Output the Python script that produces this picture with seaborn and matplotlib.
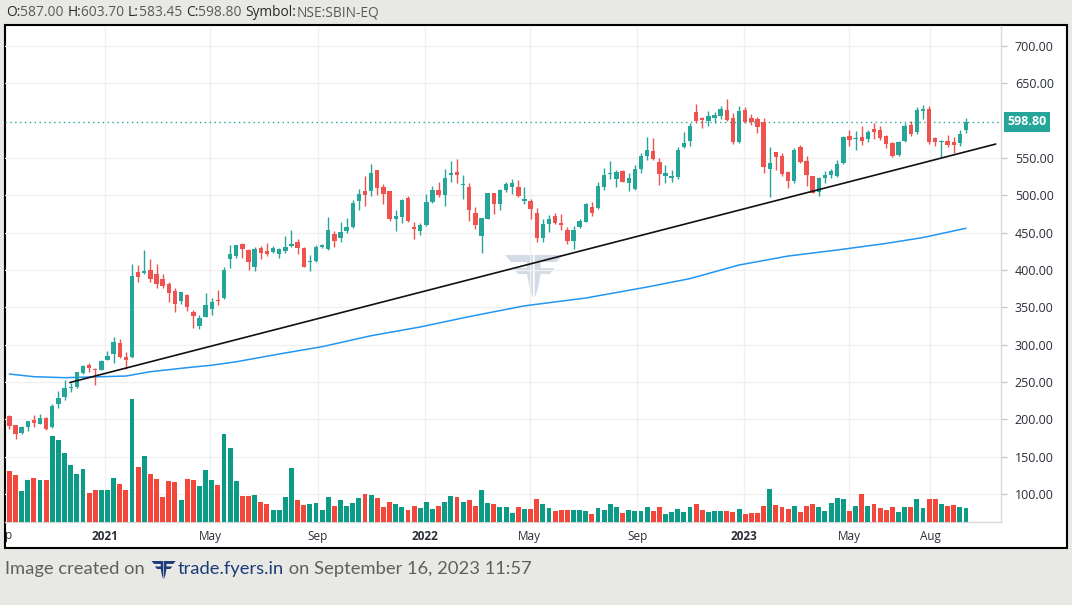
import numpy as np
import pandas as pd
import matplotlib
matplotlib.use("Agg")
import matplotlib.pyplot as plt
import matplotlib.dates as mdates
import seaborn as sns
from matplotlib.patches import Rectangle, Polygon
from matplotlib.transforms import blended_transform_factory

W, H = 1072, 605

# weekly candles, SBIN, week of 14 Sep 2020 .. week of 11 Sep 2023
dates = pd.date_range("2020-09-14", periods=157, freq="7D")

opens = [204.5, 192.0, 181.7, 190.2, 199.1, 194.2, 201.4, 189.8, 220.6, 230.4,
         242.5, 243.8, 262.5, 272.8, 267.9, 266.5, 280.0, 287.1, 302.3, 283.5,
         284.0, 397.3, 396.4, 400.0, 395.1, 388.0, 381.7, 371.9, 359.0, 366.5,
         344.2, 325.5, 337.5, 348.2, 359.8, 363.0, 414.8, 418.8, 434.9, 426.8,
         404.5, 429.0, 425.5, 424.6, 421.5, 425.9, 432.6, 437.1, 429.0, 410.3,
         412.1, 430.4, 428.1, 447.8, 443.3, 452.2, 457.1, 492.4, 505.8, 505.8,
         533.9, 511.6, 505.8, 468.3, 471.4, 496.0, 457.1, 452.7, 460.3, 491.5,
         507.1, 500.9, 527.5, 531.2, 513.4, 511.6, 476.8, 445.5, 468.3, 502.7,
         488.4, 507.1, 511.2, 511.2, 492.8, 492.4, 476.8, 443.3, 462.1, 472.3,
         462.9, 453.6, 439.3, 457.1, 464.7, 484.4, 482.6, 511.6, 528.1, 522.3,
         532.6, 517.0, 508.5, 535.3, 553.2, 559.4, 544.7, 525.9, 523.7, 524.1,
         564.3, 572.8, 612.1, 603.6, 599.6, 604.1, 606.3, 614.3, 603.2, 571.9,
         614.3, 604.1, 602.3, 597.8, 534.9, 557.6, 552.7, 531.3, 519.2, 564.3,
         546.0, 525.9, 504.9, 523.7, 527.3, 526.4, 542.9, 579.5, 575.9, 578.1,
         575.5, 589.3, 587.5, 579.5, 570.6, 554.0, 572.8, 594.7, 584.9, 613.4,
         615.6, 576.8, 571.9, 572.8, 571.5, 570.6, 587.0]
highs = [206.3, 193.0, 191.0, 197.5, 205.8, 207.2, 202.7, 220.1, 238.0, 252.7,
         249.1, 264.0, 272.8, 275.0, 269.2, 279.5, 291.5, 310.3, 307.6, 289.8,
         408.1, 406.7, 426.8, 414.8, 408.1, 394.7, 384.4, 375.5, 371.0, 367.9,
         346.5, 339.8, 368.8, 362.1, 373.2, 404.5, 433.5, 433.5, 435.7, 428.6,
         431.3, 432.2, 435.7, 432.2, 429.0, 445.6, 454.0, 441.5, 430.4, 420.1,
         433.5, 434.9, 470.5, 452.7, 464.3, 469.2, 493.7, 508.5, 525.9, 542.0,
         533.9, 515.2, 505.8, 480.4, 494.6, 499.1, 464.7, 462.5, 501.8, 512.5,
         518.3, 535.3, 546.0, 548.7, 527.2, 517.0, 484.8, 470.1, 503.6, 503.6,
         508.5, 518.3, 521.9, 520.5, 510.7, 495.1, 482.6, 467.9, 473.7, 476.8,
         475.0, 457.1, 458.9, 468.3, 490.2, 490.6, 518.3, 536.2, 546.0, 533.9,
         533.9, 529.5, 540.6, 556.2, 578.6, 577.3, 549.6, 540.7, 534.0, 564.3,
         585.3, 596.5, 622.4, 604.5, 613.0, 611.2, 620.1, 629.0, 609.9, 620.1,
         617.9, 609.0, 605.4, 603.2, 564.3, 558.5, 556.3, 532.6, 563.9, 567.4,
         553.2, 525.9, 524.1, 533.1, 535.3, 547.4, 579.9, 587.5, 586.2, 592.9,
         587.5, 596.5, 592.9, 580.8, 571.9, 573.3, 596.5, 600.0, 618.8, 621.0,
         619.7, 578.1, 574.1, 580.8, 577.7, 587.5, 603.7]
lows = [187.5, 174.1, 180.4, 184.9, 190.2, 194.0, 185.3, 188.9, 215.7, 226.0,
        237.1, 242.4, 261.2, 263.4, 246.5, 266.1, 279.5, 275.9, 282.2, 267.9,
        281.7, 384.4, 394.7, 384.0, 376.4, 375.9, 356.7, 343.8, 354.9, 345.6,
        321.9, 320.6, 337.5, 339.8, 353.6, 360.7, 403.2, 416.5, 416.5, 400.0,
        398.7, 414.8, 418.8, 423.2, 416.5, 423.2, 430.4, 421.0, 403.6, 399.1,
        411.2, 429.0, 426.8, 431.3, 437.9, 450.0, 455.8, 480.4, 485.7, 499.1,
        500.4, 488.4, 466.1, 452.7, 462.5, 464.7, 441.5, 446.9, 458.9, 489.3,
        497.3, 486.2, 518.3, 517.0, 495.1, 466.1, 454.5, 423.2, 468.3, 475.0,
        480.4, 504.5, 501.8, 497.3, 488.4, 468.8, 437.9, 437.1, 450.4, 461.6,
        453.6, 434.8, 428.1, 455.8, 464.3, 472.8, 481.3, 507.1, 521.9, 511.6,
        517.4, 506.2, 507.1, 530.4, 547.4, 547.4, 513.9, 517.0, 518.3, 521.9,
        563.0, 566.5, 597.3, 590.7, 593.3, 597.3, 602.3, 599.6, 568.8, 569.7,
        596.5, 594.2, 584.0, 530.4, 498.2, 534.0, 525.9, 510.3, 517.0, 543.8,
        513.0, 502.7, 499.6, 517.0, 522.8, 524.1, 542.0, 566.5, 560.7, 567.4,
        571.5, 575.5, 574.1, 563.4, 551.4, 552.7, 571.5, 579.9, 582.2, 602.3,
        568.8, 566.1, 551.8, 564.3, 557.2, 566.5, 583.45]
closes = [191.6, 180.8, 189.3, 197.4, 194.7, 201.8, 187.5, 217.9, 228.6, 241.6,
          243.5, 263.4, 271.5, 268.8, 265.7, 278.2, 284.8, 303.6, 283.1, 280.0,
          392.0, 391.1, 398.7, 388.4, 381.7, 379.0, 369.7, 354.9, 370.1, 350.9,
          338.9, 335.3, 352.7, 356.7, 359.0, 400.0, 421.5, 433.5, 428.6, 411.2,
          428.1, 423.2, 421.0, 429.0, 428.1, 430.4, 434.9, 429.9, 404.5, 412.1,
          431.3, 433.1, 453.6, 439.3, 450.9, 457.1, 490.2, 501.3, 500.4, 529.5,
          510.3, 501.8, 468.3, 472.3, 493.7, 466.1, 455.4, 460.3, 491.5, 507.1,
          500.4, 523.7, 529.5, 527.7, 515.2, 480.4, 460.3, 470.1, 502.7, 488.4,
          507.1, 515.2, 517.0, 499.5, 495.1, 481.7, 443.3, 461.6, 468.3, 463.4,
          460.7, 439.3, 453.6, 465.6, 488.4, 476.8, 512.5, 527.2, 529.9, 530.8,
          517.9, 522.8, 535.3, 552.7, 560.7, 548.7, 529.0, 530.0, 525.9, 560.7,
          570.6, 593.3, 599.6, 600.9, 606.3, 607.2, 615.7, 600.9, 571.9, 613.0,
          598.7, 597.8, 591.1, 538.4, 542.9, 551.8, 528.6, 519.7, 560.7, 545.1,
          527.3, 503.6, 523.2, 527.3, 532.6, 542.0, 577.7, 574.1, 576.3, 572.8,
          584.9, 584.9, 576.4, 568.8, 552.7, 571.9, 592.9, 582.2, 614.3, 615.6,
          571.5, 571.9, 573.3, 567.9, 567.9, 582.2, 598.8]
# relative weekly volume
volumes = [51, 47, 31, 42, 44, 42, 42, 86, 82, 69, 57, 48, 53, 29, 32, 32, 32, 44, 38, 32,
           123, 55, 66, 48, 43, 25, 41, 40, 22, 43, 42, 36, 52, 42, 37, 88, 74, 41, 26, 26,
           27, 20, 18, 12, 12, 25, 54, 22, 17, 18, 19, 12, 25, 16, 22, 16, 19, 24, 28, 27,
           24, 15, 20, 18, 15, 12, 16, 14, 20, 13, 16, 20, 26, 25, 20, 22, 16, 32, 19, 18,
           15, 15, 9, 15, 13, 13, 23, 18, 14, 11, 12, 12, 12, 12, 11, 8, 14, 12, 18, 15,
           9, 12, 11, 11, 15, 11, 15, 8, 10, 13, 10, 15, 18, 12, 10, 11, 11, 11, 10, 13,
           8, 9, 9, 16, 33, 17, 15, 13, 16, 10, 16, 18, 15, 11, 19, 24, 23, 11, 16, 28,
           16, 18, 14, 12, 15, 10, 15, 15, 23, 14, 23, 23, 18, 16, 17, 15, 14]

# moving average line, sampled at candle numbers
ma_idx = [1, 5, 10, 16, 20, 24, 30, 34, 38, 45, 52, 60, 68, 76, 85, 95, 105, 112,
          120, 128, 136, 144, 150, 157]
ma_vals = [260.7, 257.1, 255.8, 257.1, 258.0, 263.8, 269.2, 272.5, 277.1, 287.5,
           297.3, 312.0, 323.7, 337.6, 352.0, 362.5, 377.2, 388.5, 406.7, 418.7,
           426.8, 435.6, 443.5, 455.9]

trend_dates = ["2020-11-22", "2023-10-15"]
trend_prices = [249.3, 568.7]

last_price = 598.8
price_ticks = [100, 150, 200, 250, 300, 350, 400, 450, 500, 550, 650, 700]
date_ticks = ["2021-01-01", "2021-05-01", "2021-09-01", "2022-01-01", "2022-05-01",
              "2022-09-01", "2023-01-01", "2023-05-01", "2023-08-01"]
date_labels = ["2021", "May", "Sep", "2022", "May", "Sep", "2023", "May", "Aug"]

sns.set_theme(style="white")
plt.rcParams["font.family"] = ["Open Sans", "DejaVu Sans"]

fig = plt.figure(figsize=(W / 100, H / 100), dpi=100, facecolor="#e8e8e4")


def fx(px):
    return px / W


def fy(py):
    return 1 - py / H


fig.add_artist(Rectangle((fx(5), fy(548)), fx(1062), 523 / H, transform=fig.transFigure,
                         facecolor="white", edgecolor="black", lw=1.5, zorder=-2))

# fyers mark: half of it, in pixels, mirrored for the other half
logo_half = [(0, 0), (28, 0), (28, 43), (25, 35), (22, 19), (13, 19), (8, 13),
             (22, 13), (22, 7), (6, 7)]


def draw_logo(left, top, scale, color, z):
    mid = 28.8
    for flip in (False, True):
        pts = []
        for px_, py_ in logo_half:
            xx = 2 * mid - px_ if flip else px_
            pts.append((fx(left + xx * scale), fy(top + py_ * scale)))
        fig.add_artist(Polygon(pts, closed=True, transform=fig.transFigure,
                               facecolor=color, edgecolor="none", zorder=z))


# watermark
draw_logo(505, 255, 1.0, "#d3dbe6", -1)

ax = fig.add_axes([fx(5), fy(522), 996 / W, 496 / H])
ax.set_facecolor("none")
vol = ax.twinx()

x = mdates.date2num(dates)
o = np.array(opens)
c = np.array(closes)
up = c >= o
candle_col = np.where(up, "#26a69a", "#ef5350")
vol_col = np.where(up, "#0c9b87", "#f4473b")

vol.bar(x, volumes, width=5.6, color=vol_col, linewidth=0)
vol.set_ylim(0, 496)
vol.set_axis_off()

ax.vlines(x, lows, highs, colors=candle_col, lw=1, zorder=3)
ax.bar(x, np.maximum(np.abs(c - o), 0.9), bottom=np.minimum(o, c), width=5.0,
       color=candle_col, linewidth=0, zorder=3)

sns.lineplot(x=x[np.array(ma_idx) - 1], y=ma_vals, ax=ax, color="#2196f3", lw=1.1, zorder=2)
ax.plot(mdates.date2num(pd.to_datetime(trend_dates)), trend_prices, color="#111111", lw=1.2, zorder=4)
ax.axhline(last_price, color="#26a69a", lw=1, ls=(0, (1, 2.5)), zorder=1)

ax.set_xlim(mdates.date2num(pd.Timestamp("2020-09-09")), mdates.date2num(pd.Timestamp("2023-10-21")))
ax.set_ylim(62.5, 726.8)
ax.set_xlabel("")
ax.set_ylabel("")

ax.yaxis.tick_right()
ax.set_yticks(price_ticks)
ax.set_yticklabels([f"{p:.2f}" for p in price_ticks])
ax.tick_params(axis="y", right=True, left=False, length=4, width=1, color="#c8c8c8",
               pad=6, labelsize=9, labelcolor="#2a2e39")
ax.set_xticks(mdates.date2num(pd.to_datetime(date_ticks)))
ax.set_xticklabels(date_labels)
ax.tick_params(axis="x", length=0, pad=6, labelsize=8.5, labelcolor="#2a2e39")
for lbl in ax.get_xticklabels():
    if lbl.get_text().isdigit():
        lbl.set_fontweight("bold")
ax.grid(True, color="#f0f0f0", lw=1)
ax.set_axisbelow(True)
for side in ("top", "left"):
    ax.spines[side].set_visible(False)
for side in ("right", "bottom"):
    ax.spines[side].set_visible(True)
    ax.spines[side].set_color("#d8d8d8")
    ax.spines[side].set_linewidth(1)

ax.text(1.026, last_price, f"{last_price:.2f}", transform=blended_transform_factory(ax.transAxes, ax.transData),
        ha="center", va="center", color="white", fontweight="bold", fontsize=9, clip_on=False, zorder=10,
        bbox=dict(boxstyle="square,pad=0.28", fc="#26a69a", ec="none"))

fig.text(fx(5), fy(536), "p", ha="left", va="center", fontsize=8.5, color="#2a2e39")

renderer = fig.canvas.get_renderer()


def seq_text(x_px, y_px, parts, size, family=None):
    for s, color in parts:
        t = fig.text(fx(x_px), fy(y_px), s, ha="left", va="center", fontsize=size, color=color)
        if family:
            t.set_family(family)
        x_px += t.get_window_extent(renderer).width
    return x_px


dark, grey = "#2a2a2a", "#5a5a5a"
seq_text(6, 13, [("O:", dark), ("587.00 ", grey), ("H:", dark), ("603.70 ", grey),
                 ("L:", dark), ("583.45 ", grey), ("C:", dark), ("598.80 ", grey),
                 ("Symbol:", dark), ("NSE:SBIN-EQ", grey)], 9.9)

foot = ["Liberation Sans Narrow", "Lato", "DejaVu Sans"]
end = seq_text(5, 569, [("Image created on ", "#5f5f5f")], 13.2, foot)
draw_logo(end + 2, 561, 0.42, "#1d3b78", 5)
end = seq_text(end + 28, 569, [("trade.fyers.in", "#1d3b78")], 13.2, foot)
seq_text(end, 569, [(" on September 16, 2023 11:57", "#5f5f5f")], 13.2, foot)

fig.savefig("out.png", dpi=100, facecolor=fig.get_facecolor())
